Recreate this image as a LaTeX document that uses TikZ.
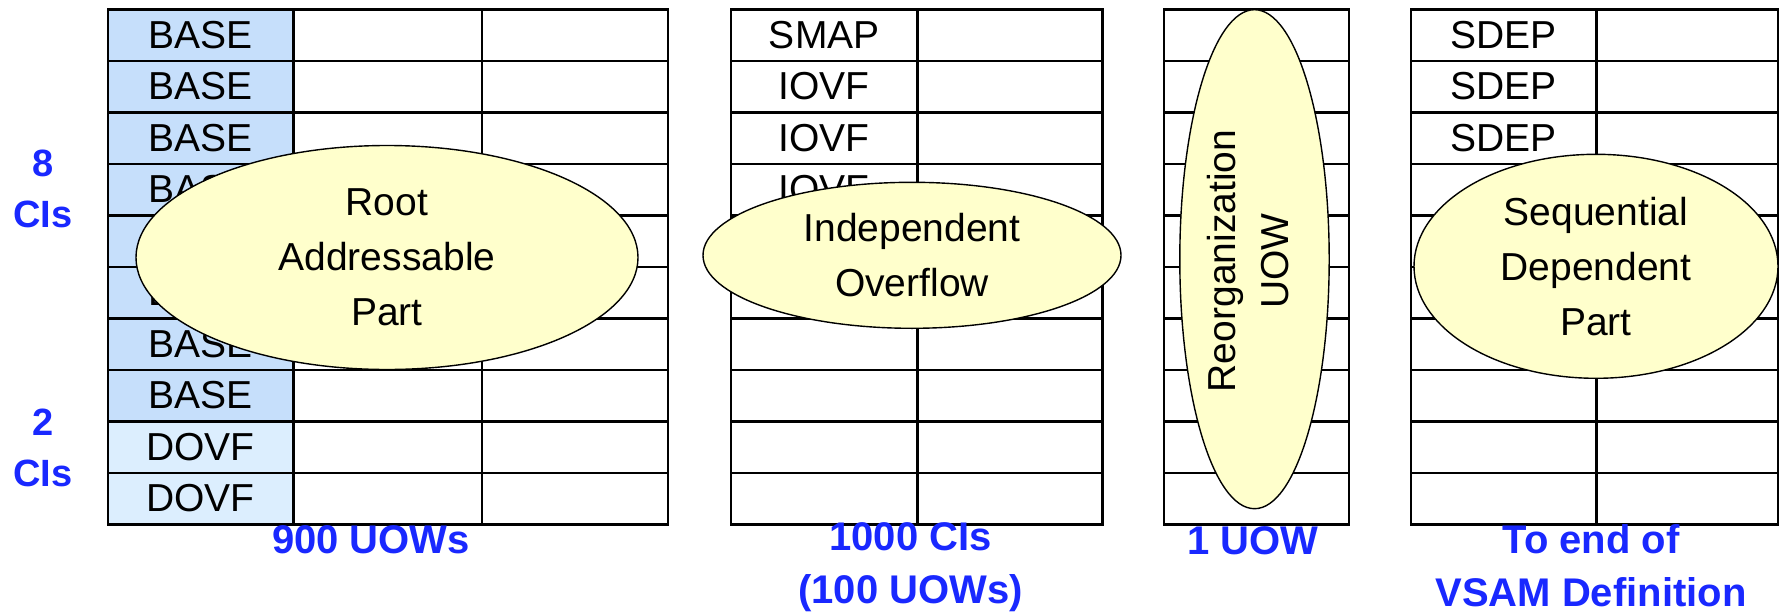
\documentclass[tikz,border=0pt]{standalone}
\usepackage{fontspec}
\setmainfont{Liberation Sans}
\usetikzlibrary{shapes.geometric}
\definecolor{basefill}{RGB}{198,223,251}
\definecolor{dovffill}{RGB}{220,238,254}
\definecolor{blobfill}{RGB}{255,255,204}
\definecolor{lblblue}{RGB}{25,40,255}
\begin{document}
\begin{tikzpicture}[x=1pt,y=-1pt,
  cell/.style={draw=black, line width=2.4pt, fill=white, inner sep=0pt, outer sep=0pt,
    minimum height=51.5pt, font=\fontsize{39}{46}\selectfont},
  blob/.style={ellipse, draw=black, line width=1.4pt, fill=blobfill, inner sep=0pt,
    align=center, font=\fontsize{39}{55}\selectfont},
  blobtext/.style={align=center, inner sep=0pt, font=\fontsize{39}{53}\selectfont},
  lbl/.style={text=lblblue, align=center, inner sep=0pt,
    font=\fontsize{38}{51}\selectfont\bfseries},
  lblb/.style={lbl, font=\fontsize{40}{53.6}\selectfont\bfseries}]
\useasboundingbox[fill=white] (0,0) rectangle (1780,613);

% Table 1
\foreach \r/\t/\f in {1/BASE/basefill,2/BASE/basefill,3/BASE/basefill,4/BASE/basefill,
  5/BASE/basefill,6/BASE/basefill,7/BASE/basefill,8/BASE/basefill,
  9/DOVF/dovffill,10/DOVF/dovffill}{
  \pgfmathsetmacro\cy{9.3+(\r-0.5)*51.5}
  \node[cell, minimum width=185.3pt, fill=\f] (ta\r) at (200.65,\cy) {\t};
  \node[cell, minimum width=188.7pt] (tb\r) at (387.65,\cy) {};
  \node[cell, minimum width=186pt] (tc\r) at (575,\cy) {};
}
% Table 2
\foreach \r/\t in {1/SMAP,2/IOVF,3/IOVF,4/IOVF,5/{},6/{},7/{},8/{},9/{},10/{}}{
  \pgfmathsetmacro\cy{9.3+(\r-0.5)*51.5}
  \node[cell, minimum width=186.5pt] (ua\r) at (824.25,\cy) {\t};
  \node[cell, minimum width=185pt] (ub\r) at (1010,\cy) {};
}
% Table 3
\foreach \r in {1,...,10}{
  \pgfmathsetmacro\cy{9.3+(\r-0.5)*51.5}
  \node[cell, minimum width=185pt] (va\r) at (1256.5,\cy) {};
}
% Table 4
\foreach \r/\t in {1/SDEP,2/SDEP,3/SDEP,4/{},5/{},6/{},7/{},8/{},9/{},10/{}}{
  \pgfmathsetmacro\cy{9.3+(\r-0.5)*51.5}
  \node[cell, minimum width=185.5pt] (wa\r) at (1503.75,\cy) {\t};
  \node[cell, minimum width=181.5pt] (wb\r) at (1687.25,\cy) {};
}

% Ellipses
\node[blob, minimum width=502pt, minimum height=224pt] (rap) at (387,257.5) {Root\\Addressable\\Part};
\node[blob, minimum width=418pt, minimum height=146pt] (iov) at (912,255.3) {Independent\\Overflow};
\node[blob, rotate=90, minimum width=499pt, minimum height=149.4pt] (reo) at (1254.5,259.2) {};
\node[blobtext, rotate=90] (reot) at (1248,261) {Reorganization\\UOW};
\node[blob, minimum width=364pt, minimum height=224pt] (sdp) at (1596,266.3) {Sequential\\Dependent\\Part};

% Labels
\node[lbl] (l8) at (43,189) {8\\CIs};
\node[lbl] (l2) at (43,448) {2\\CIs};
\node[lblb] (lb1) at (371,539.7) {900 UOWs};
\node[lblb] (lb2) at (910.5,567) {1000 CIs\\(100 UOWs)};
\node[lblb] (lb3) at (1252.8,541) {1 UOW};
\node[lblb] (lb4) at (1591,565.5) {To end of\\VSAM Definition};
\end{tikzpicture}
\end{document}
